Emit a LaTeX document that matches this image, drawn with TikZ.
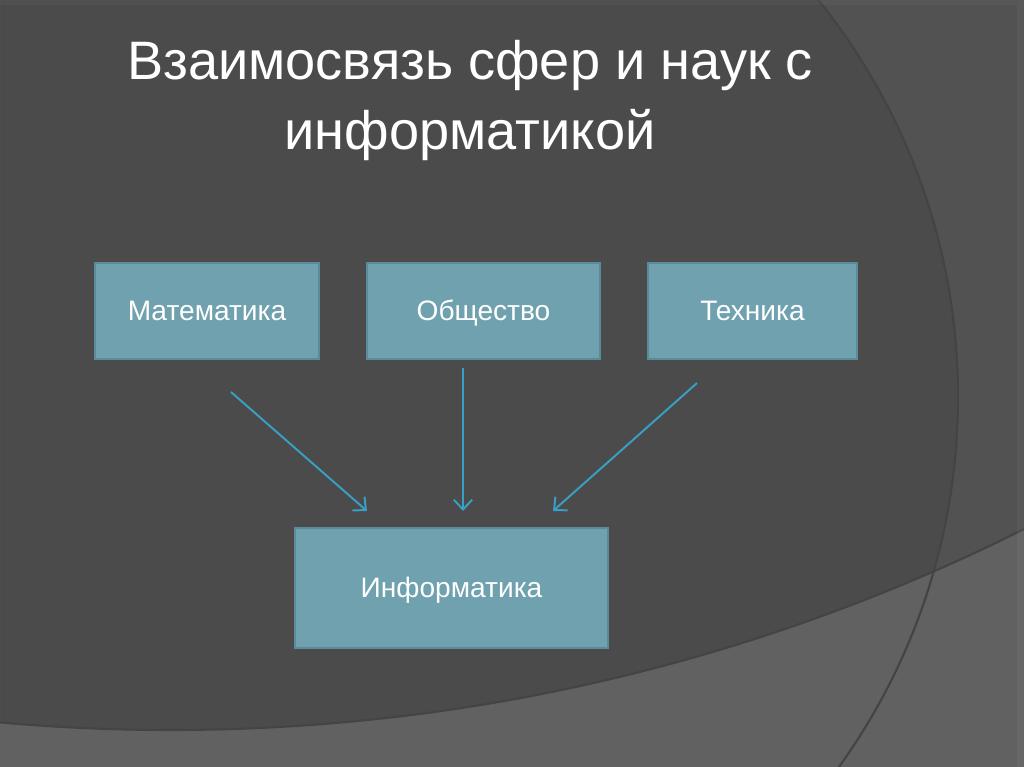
\documentclass[tikz,border=0pt]{standalone}
\usepackage{fontspec}
\setmainfont{Liberation Sans}
\usetikzlibrary{arrows.meta}
\definecolor{bgdark}{HTML}{4B4B4B}
\definecolor{bgright}{HTML}{525252}
\definecolor{bgband}{HTML}{616161}
\definecolor{bgedge}{HTML}{444444}
\definecolor{boxfill}{HTML}{6FA1AF}
\definecolor{boxline}{HTML}{5A8B9A}
\definecolor{arrowblue}{HTML}{38A0C4}
\tikzset{
  box/.style={draw=boxline, line width=1.2pt, fill=boxfill, text=white,
    inner sep=0pt, outer sep=0pt, text height=14.5pt, text depth=1pt,
    font=\fontsize{20pt}{24pt}\selectfont},
  title/.style={text=white, anchor=base, inner sep=0pt,
    font=\fontsize{38.5pt}{46pt}\selectfont}
}
\begin{document}
\begin{tikzpicture}[x=0.025cm, y=-0.025cm]
  \useasboundingbox (0,0) rectangle (1024,767);
  % background
  \fill[bgdark] (0,0) rectangle (1024,767);
  \begin{scope}
    \clip (0,0) rectangle (1024,767);
    \fill[bgright, even odd rule] (0,0) rectangle (1024,767) (324,397) circle (634);
    \fill[bgband, even odd rule] (0,0) rectangle (1024,767) (171,-1177) circle (1907);
    \draw[bgedge, line width=1.5pt] (324,397) circle (634);
    \draw[bgedge, line width=1.5pt] (171,-1177) circle (1907);
    \fill[white, opacity=0.04] (1017,0) rectangle (1024,767);
    \fill[white, opacity=0.03] (0,0) rectangle (1017,5);
  \end{scope}
  % title
  \node[title] (title1) at (470,80) {Взаимосвязь сфер и наук с};
  \node[title] (title2) at (470,150) {информатикой};
  % boxes
  \node[box, minimum width=5.6cm, minimum height=2.4cm] (mat) at (207,311) {Математика};
  \node[box, minimum width=5.825cm, minimum height=2.4cm] (obs) at (483.5,311) {Общество};
  \node[box, minimum width=5.225cm, minimum height=2.4cm] (tech) at (752.5,311) {Техника};
  \node[box, minimum width=7.825cm, minimum height=3cm] (inf) at (451.5,588) {Информатика};
  % arrow ends
  \coordinate (mat-out) at (231,392);
  \coordinate (obs-out) at (463,368);
  \coordinate (tech-out) at (697,383);
  \coordinate (inf-in1) at (367,511);
  \coordinate (inf-in2) at (463,511);
  \coordinate (inf-in3) at (553,511);
  \begin{scope}[-{Straight Barb[length=7pt,width=13pt]}, arrowblue, line width=1.4pt]
    \draw (mat-out) to (inf-in1);
    \draw (obs-out) to (inf-in2);
    \draw (tech-out) to (inf-in3);
  \end{scope}
\end{tikzpicture}
\end{document}
